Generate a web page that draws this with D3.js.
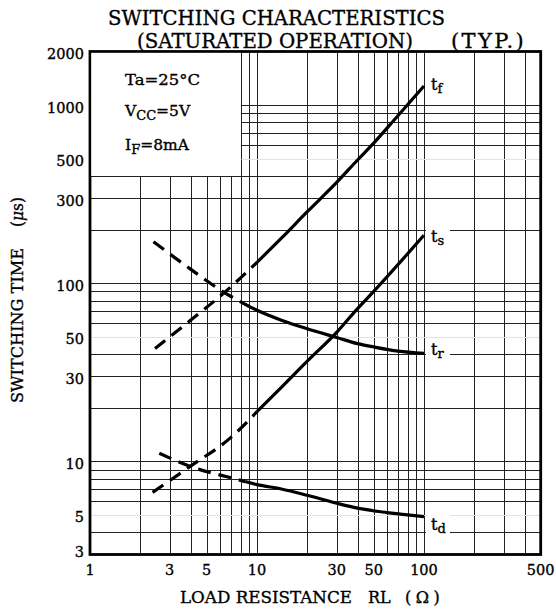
<!DOCTYPE html>
<html><head><meta charset="utf-8">
<script src="https://cdn.jsdelivr.net/npm/d3@7"></script>
<style>
body{margin:0;background:#fff}
svg{display:block}
text{font-family:"DejaVu Serif",serif;fill:#000;stroke:#000;stroke-width:0.35px}
</style>
</head><body>
<svg id="c" width="556" height="609"></svg>
<script>
// ---- data ----
const titleLine1 = "SWITCHING CHARACTERISTICS";
const titleLine2a = "(SATURATED OPERATION)";
const titleLine2b = "(TYP.)";
const xTickValues = [1, 3, 5, 10, 30, 50, 100, 500];
const yTickValues = [2000, 1000, 500, 300, 100, 50, 30, 10, 5, 3];
const xGridValues = [2,3,4,5,6,7,8,9,10,20,30,40,50,60,70,80,90,100,200,300,400];
const yGridValues = [4,5,6,7,8,9,10,20,30,40,50,60,70,80,90,100,200,300,400,500,600,700,800,900,1000];
const lightYGrid = [5, 50, 500];
const seriesSub = ["f", "s", "r", "d"];
const tfR = [2.45, 4, 6.5, 10, 14, 20, 30, 40, 50, 70, 100];
const tfT = [43, 62, 90, 131, 179, 252, 368, 492, 612, 875, 1280];
const tsR = [2.37, 4, 6.9, 10, 14, 20, 30, 40, 50, 100];
const tsT = [6.7, 9.4, 13.5, 19, 26, 36.5, 53, 72, 90, 186];
const trR = [2.4, 4, 6.1, 9, 10, 14, 20, 30, 40, 50, 70, 100];
const trT = [171, 120, 91, 74, 70.5, 62, 55.5, 49.6, 45.8, 43.9, 41.6, 40.4];
const tdR = [2.6, 4, 7.5, 8.5, 10, 14, 20, 30, 40, 60, 100];
const tdT = [11.1, 9.35, 7.95, 7.7, 7.4, 7.0, 6.45, 5.82, 5.46, 5.16, 4.9];
const solidFrom = [10, 10, 9, 8.5];
const legendBoxR = 8, legendBoxT = 400;

// ---- layout ----
const svg = d3.select("#c");
const x = d3.scaleLog().domain([1, 500]).range([90, 540.7]);
const y = d3.scaleLog().domain([3, 2000]).range([554.5, 51.5]);
const sx = v => Math.round(x(v)) + 0.5;
const sy = v => Math.round(y(v)) + 0.5;

// grid
const g = svg.append("g");
xGridValues.forEach(v => {
  const top = v < legendBoxR ? sy(legendBoxT) : y(2000);
  g.append("line").attr("x1", sx(v)).attr("x2", sx(v)).attr("y1", top).attr("y2", y(3))
    .attr("stroke", "#222").attr("stroke-width", 1);
});
yGridValues.forEach(v => {
  const left = v > legendBoxT ? sx(legendBoxR) : x(1);
  g.append("line").attr("x1", left).attr("x2", x(500)).attr("y1", sy(v)).attr("y2", sy(v))
    .attr("stroke", lightYGrid.includes(v) ? "#e2e2e2" : "#222").attr("stroke-width", 1);
});

// frame
svg.append("rect").attr("x", x(1)).attr("y", y(2000)).attr("width", x(500) - x(1)).attr("height", y(3) - y(2000))
  .attr("fill", "none").attr("stroke", "#000").attr("stroke-width", 2.8);

// curves
const series = [[tfR, tfT], [tsR, tsT], [trR, trT], [tdR, tdT]].map(([R, T], i) => ({
  sub: seriesSub[i], split: solidFrom[i], pts: R.map((r, j) => ({r, t: T[j]}))
}));
const line = d3.line().x(d => x(d.r)).y(d => y(d.t)).curve(d3.curveMonotoneX);
const cg = svg.append("g").attr("fill", "none").attr("stroke", "#000").attr("stroke-width", 3.2);
series.forEach(s => {
  cg.append("path").attr("d", line(s.pts.filter(p => p.r <= s.split))).attr("stroke-dasharray", "13,8");
  cg.append("path").attr("d", line(s.pts.filter(p => p.r >= s.split)));
});

// curve labels
const labelDy = [4, 7, 2, 13];
series.forEach((s, i) => {
  const end = s.pts[s.pts.length - 1];
  const by = y(end.t) + labelDy[i];
  svg.append("rect").attr("x", 426).attr("y", by - 15).attr("width", 24).attr("height", 20).attr("fill", "#fff");
  const t = svg.append("text").attr("x", 431).attr("y", by).attr("font-size", 16);
  t.append("tspan").text("t");
  t.append("tspan").attr("dy", 3).attr("font-size", 13).text(s.sub);
});

// legend box
svg.append("rect").attr("x", x(1) + 1.4).attr("y", y(2000) + 1.4).attr("width", sx(legendBoxR) - x(1) - 1.9)
  .attr("height", sy(legendBoxT) - y(2000) - 1.9).attr("fill", "#fff");
const lg = svg.append("g").attr("font-size", 15.5);
lg.append("text").attr("x", 125).attr("y", 85).attr("textLength", 75).attr("lengthAdjust", "spacingAndGlyphs").text("Ta=25°C");
let t2 = lg.append("text").attr("x", 125).attr("y", 116);
t2.append("tspan").text("V");
t2.append("tspan").attr("dy", 4).attr("font-size", 13).text("CC");
t2.append("tspan").attr("dy", -4).text("=5V");
let t3 = lg.append("text").attr("x", 125).attr("y", 150);
t3.append("tspan").text("I");
t3.append("tspan").attr("dy", 4).attr("font-size", 13).text("F");
t3.append("tspan").attr("dy", -4).text("=8mA");

// ticks
svg.append("g").attr("font-size", 14.5).attr("text-anchor", "end").selectAll("text").data(yTickValues).join("text")
  .attr("x", 84).attr("y", d => Math.min(y(d) + 7.5, 557)).text(d => d);
svg.append("g").attr("font-size", 14.5).attr("text-anchor", "middle").selectAll("text").data(xTickValues).join("text")
  .attr("x", d => x(d)).attr("y", 575).text(d => d);

// titles
svg.append("text").attr("x", 108).attr("y", 25).attr("font-size", 20.5).attr("textLength", 337).attr("lengthAdjust", "spacingAndGlyphs").text(titleLine1);
svg.append("text").attr("x", 137).attr("y", 48).attr("font-size", 20.5).attr("textLength", 276).attr("lengthAdjust", "spacingAndGlyphs").text(titleLine2a);
svg.append("text").attr("x", 451).attr("y", 48).attr("font-size", 21).attr("letter-spacing", 2.4).text(titleLine2b);

// x axis title
const xt = svg.append("g").attr("font-size", 16);
xt.append("text").attr("x", 180).attr("y", 603).attr("textLength", 172).attr("lengthAdjust", "spacingAndGlyphs").text("LOAD RESISTANCE");
xt.append("text").attr("x", 368).attr("y", 603).text("RL");
xt.append("text").attr("x", 405).attr("y", 603).attr("letter-spacing", 4.5).text("(Ω)");

// y axis title
const yt = svg.append("g").attr("font-size", 16).attr("transform", "translate(23,0) rotate(-90)");
yt.append("text").attr("x", -403).attr("y", 0).attr("textLength", 155).attr("lengthAdjust", "spacingAndGlyphs").text("SWITCHING TIME");
const mu = yt.append("text").attr("x", -227).attr("y", 0).attr("textLength", 30).attr("lengthAdjust", "spacingAndGlyphs");
mu.append("tspan").text("(");
mu.append("tspan").attr("font-style", "italic").text("μ");
mu.append("tspan").text("s)");
</script>
</body></html>
